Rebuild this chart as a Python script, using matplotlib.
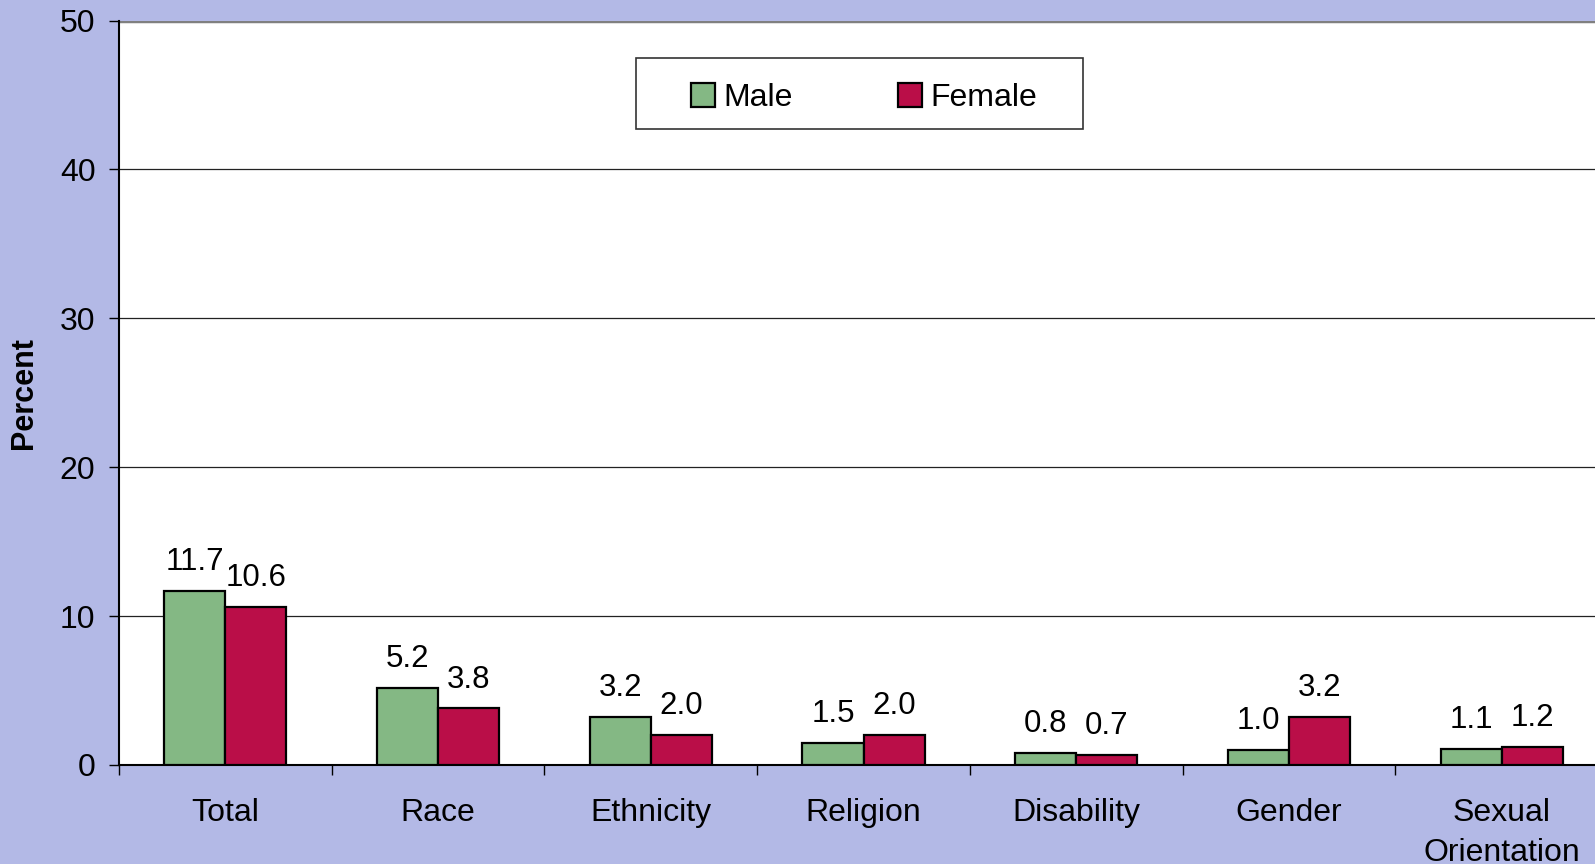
import numpy as np
import matplotlib.pyplot as plt
from matplotlib.patches import Patch, Rectangle

# datos
categorias = ["Total", "Race", "Ethnicity", "Religion", "Disability",
              "Gender", "Sexual\nOrientation"]
male = [11.7, 5.2, 3.2, 1.5, 0.8, 1.0, 1.1]
female = [10.6, 3.8, 2.0, 2.0, 0.7, 3.2, 1.2]
yticks = [0, 10, 20, 30, 40, 50]

C_BG = "#B3B9E6"
C_MALE = "#84B884"
C_FEMALE = "#BA0E48"

plt.rcParams["font.family"] = ["Liberation Sans", "DejaVu Sans"]

W, H = 1595, 864
fig = plt.figure(figsize=(W / 100, H / 100), dpi=100, facecolor=C_BG)
# el eje se sale un poco por la derecha, como en el original
ax = fig.add_axes([119 / W, 1 - 765 / H, 1489 / W, (765 - 20.5) / H])
ax.set_facecolor("white")

x = np.arange(len(categorias))
w = 0.287
b1 = ax.bar(x - w / 2, male, w, color=C_MALE, edgecolor="black", lw=1.6, zorder=3)
b2 = ax.bar(x + w / 2, female, w, color=C_FEMALE, edgecolor="black", lw=1.6, zorder=3)

for barras, vals in ((b1, male), (b2, female)):
    for r, v in zip(barras, vals):
        ax.annotate(f"{v:.1f}", xy=(r.get_x() + r.get_width() / 2, v),
                    xytext=(0, 10), textcoords="offset points",
                    ha="center", va="bottom", fontsize=22.5)

ax.set_xlim(-0.5, len(categorias) - 0.5)
ax.set_ylim(0, 50)
ax.set_yticks(yticks)
ax.tick_params(axis="y", labelsize=23, length=7, width=1, direction="out", pad=10)
ax.grid(axis="y", color="#222222", lw=0.9, zorder=0)
ax.yaxis.get_gridlines()[-1].set_color("#808080")
ax.yaxis.get_gridlines()[-1].set_linewidth(2.5)

ax.set_xticks(x)
ax.set_xticklabels(categorias, fontsize=23, linespacing=1.4)
ax.tick_params(axis="x", length=0, pad=24)
ax.set_xticks(np.arange(len(categorias)) - 0.5, minor=True)
ax.tick_params(axis="x", which="minor", length=7, width=1, direction="out")

for s in ("top", "right"):
    ax.spines[s].set_visible(False)
ax.spines["left"].set_linewidth(1.5)
ax.spines["bottom"].set_linewidth(1.5)

ax.set_ylabel("Percent", fontsize=22, fontweight="bold")
ax.yaxis.set_label_coords((39 - 119) / 1489, 0.5)

# leyenda sin marco + recuadro manual
handles = [Patch(facecolor=C_MALE, edgecolor="black", lw=1.6, label="Male"),
           Patch(facecolor=C_FEMALE, edgecolor="black", lw=1.6, label="Female")]
leg = fig.legend(handles=handles, loc="center", bbox_to_anchor=(864 / W, 1 - 98 / H),
                 ncol=2, fontsize=23, frameon=False, handlelength=0.75,
                 handleheight=0.75, handletextpad=0.25, columnspacing=3.3)
fig.patches.append(Rectangle((636 / W, 1 - 129 / H), (1083 - 636) / W, (129 - 58) / H,
                             transform=fig.transFigure, facecolor="white",
                             edgecolor="#333333", lw=1.2, zorder=2))
leg.set_zorder(5)

fig.savefig("out.png", dpi=100, facecolor=C_BG)
